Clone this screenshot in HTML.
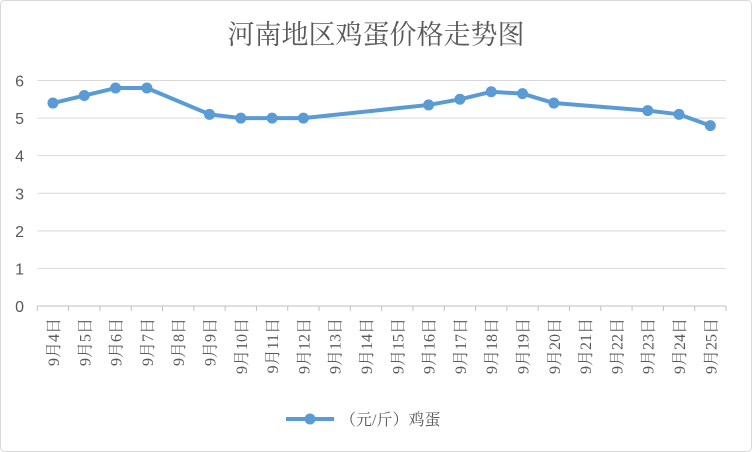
<!DOCTYPE html>
<html><head><meta charset="utf-8"><style>
body{margin:0;background:#fff;}
svg{display:block;font-family:"Liberation Sans","Noto Sans CJK SC",sans-serif;}
.serif{font-family:"Liberation Serif","Noto Serif CJK SC",serif;}
</style></head><body>
<svg width="752" height="452">
<rect x="0.5" y="0.5" width="751" height="451" rx="4" fill="#fff" stroke="#d9d9d9"/>
<text class="serif" x="376" y="44" text-anchor="middle" font-size="27" fill="#595959">河南地区鸡蛋价格走势图</text>
<g id="grid"></g><g id="xaxis"></g><g id="series"></g>
<g>
<line x1="286" y1="419" x2="334" y2="419" stroke="#5b9bd5" stroke-width="4"/>
<circle cx="310" cy="419" r="5.5" fill="#5b9bd5"/>
<text class="serif" x="340" y="425" font-size="16" fill="#595959">（元/斤）鸡蛋</text>
</g>
</svg>
<script>
const categories=["9月4日","9月5日","9月6日","9月7日","9月8日","9月9日","9月10日","9月11日","9月12日","9月13日","9月14日","9月15日","9月16日","9月17日","9月18日","9月19日","9月20日","9月21日","9月22日","9月23日","9月24日","9月25日"];
const prices=[5.4,5.6,5.8,5.8,null,5.1,5.0,5.0,5.0,null,null,null,5.35,5.5,5.7,5.65,5.4,null,null,5.2,5.1,4.8];
const yTicks=[0,1,2,3,4,5,6];
const NS="http://www.w3.org/2000/svg";
const L=37.3,R=726,Y0=306,Y6=80.5;
const bw=(R-L)/categories.length;
const xs=i=>L+bw*(i+0.5);
const ys=v=>Y0-(Y0-Y6)*v/6;
function mk(t,a,p){const e=document.createElementNS(NS,t);for(const k in a)e.setAttribute(k,a[k]);p.appendChild(e);return e;}
const grid=document.getElementById('grid');
yTicks.forEach(v=>{
 const l=mk('line',{x1:L,x2:R,y1:ys(v),y2:ys(v),stroke:v===0?'#bfbfbf':'#d9d9d9','stroke-width':1},grid);
 
 
 const t=mk('text',{x:24,y:ys(v)+6,'text-anchor':'end','font-size':16,fill:'#595959'},grid);
 t.textContent=v;
 
 
});
const xa=document.getElementById('xaxis');
for(let i=0;i<=categories.length;i++){
 const tk=mk('line',{x1:L+bw*i,x2:L+bw*i,y1:Y0,y2:Y0+5,stroke:'#bfbfbf'},xa);
 
 
}
categories.forEach((c,i)=>{
 const x=xs(i)+6;
 const t=mk('text',{x:x,y:318,'text-anchor':'end','font-size':16,fill:'#595959','class':'serif',transform:`rotate(-90 ${x} 318)`},xa);
 t.textContent=c;
 
 
});
const s=document.getElementById('series');
const pts=[];prices.forEach((v,i)=>{if(v!==null)pts.push([xs(i),ys(v)]);});
const pl=mk('polyline',{points:pts.map(p=>p.join(',')).join(' '),fill:'none',stroke:'#5b9bd5','stroke-width':4,'stroke-linejoin':'round','stroke-linecap':'round'},s);


prices.forEach((v,i)=>{if(v===null)return;
 const c=mk('circle',{cx:xs(i),cy:ys(v),r:5.5,fill:'#5b9bd5'},s);
 
 
});
</script>
</body></html>
